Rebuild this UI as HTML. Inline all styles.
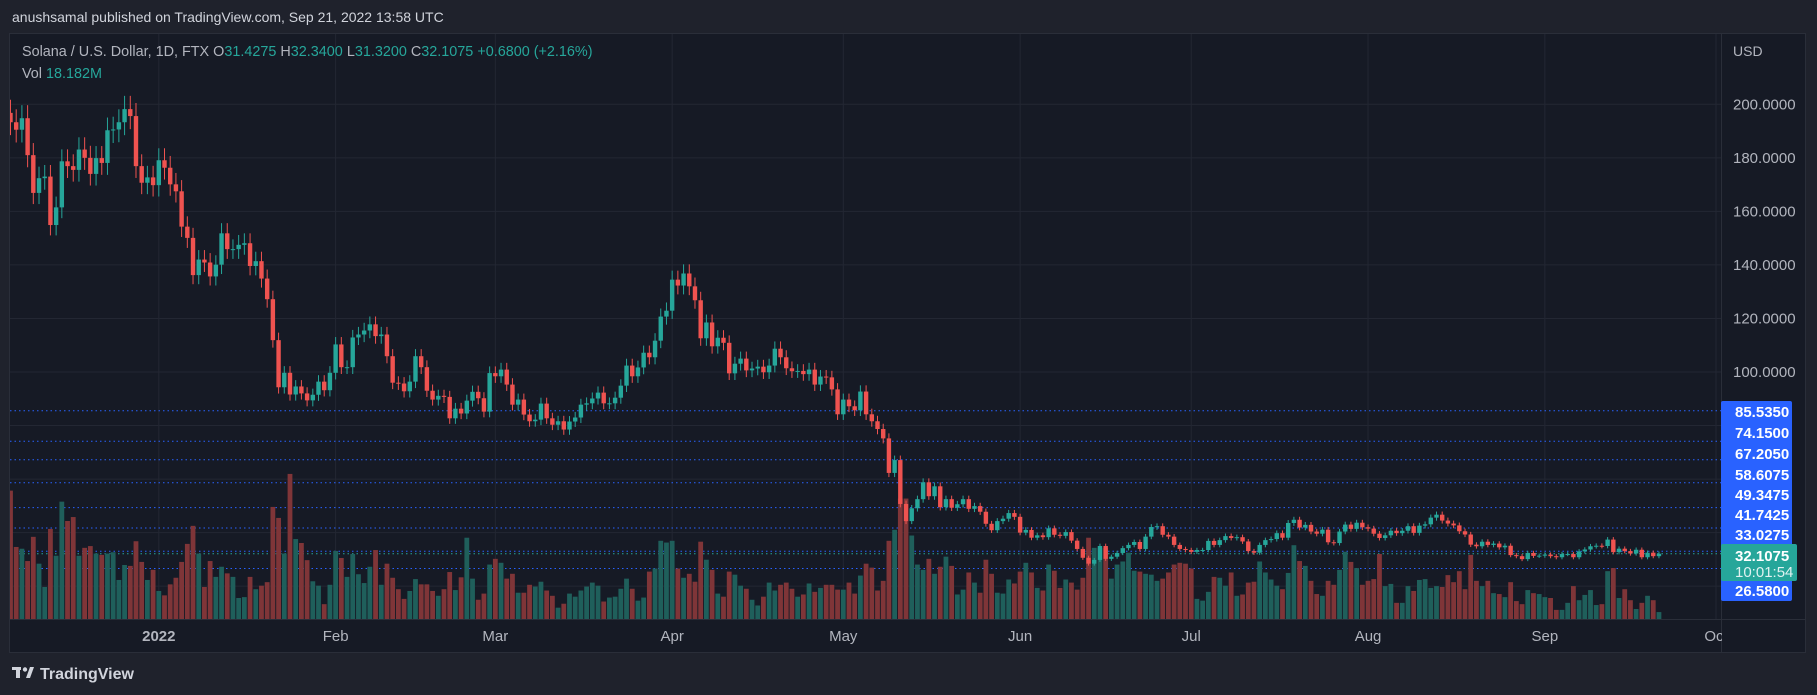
<!DOCTYPE html>
<html><head><meta charset="utf-8"><style>
html,body{margin:0;padding:0;background:#1e222d;width:1817px;height:695px;overflow:hidden}
svg{display:block;font-family:"Liberation Sans",sans-serif}
</style></head><body>
<svg id="chart" width="1817" height="695" viewBox="0 0 1817 695" xmlns="http://www.w3.org/2000/svg">
<rect x="0" y="0" width="1817" height="695" fill="#1f222c"/>
<text x="12" y="22" fill="#d1d4dc" font-size="14">anushsamal published on TradingView.com, Sep 21, 2022 13:58 UTC</text>
<rect x="9.5" y="33.5" width="1796" height="619" fill="#161a25" stroke="#2a2e39"/>
<g id="grid"></g>
<g id="levels"></g>
<g id="vols" clip-path="url(#plotclip)"></g>
<g id="candles" clip-path="url(#plotclip)"></g>
<defs><clipPath id="plotclip"><rect x="10" y="34" width="1711" height="585"/></clipPath></defs>
<line x1="1721.5" y1="34" x2="1721.5" y2="652" stroke="#2a2e39"/>
<line x1="10" y1="619.5" x2="1805" y2="619.5" stroke="#2a2e39"/>
<text x="1733" y="56" fill="#b2b5be" font-size="14">USD</text>
<g id="yaxis"></g>
<g id="xaxis"></g>
<g id="tags"></g>
<text x="22" y="56" font-size="14.4" fill="#b2b5be">Solana / U.S. Dollar, 1D, FTX  <tspan fill="#b2b5be">O</tspan><tspan fill="#26a69a">31.4275</tspan>  <tspan fill="#b2b5be">H</tspan><tspan fill="#26a69a">32.3400</tspan>  <tspan fill="#b2b5be">L</tspan><tspan fill="#26a69a">31.3200</tspan>  <tspan fill="#b2b5be">C</tspan><tspan fill="#26a69a">32.1075</tspan>  <tspan fill="#26a69a">+0.6800 (+2.16%)</tspan></text>
<text x="22" y="78" font-size="14.4" fill="#b2b5be">Vol  <tspan fill="#26a69a">18.182M</tspan></text>
<g>
<rect x="12" y="667" width="9" height="3" fill="#d1d4dc"/><rect x="16" y="667" width="4" height="11" fill="#d1d4dc"/>
<circle cx="25" cy="669.5" r="2.2" fill="#d1d4dc"/><polygon points="26,678 30,667 34,667 30,678" fill="#d1d4dc"/>
<text x="40" y="679" font-size="16" font-weight="bold" fill="#d1d4dc">TradingView</text>
</g>
</svg>
<script>
const startDay = -26;
const closes = [193.3,190.5,194.8,181,166.9,172.4,173,154.9,161.5,178.7,176.9,175.5,183.1,180,174,179.9,178.1,190.3,190.6,193.3,198.2,195.6,176.9,170.7,172.7,169.8,
179.1,176.3,170.1,167.5,154.3,150.1,136.2,142,140.9,135.7,140.1,151.8,145.9,145.9,147.5,148.1,139.6,141.4,134.9,127.2,111.9,94.3,99.7,91.6,94.6,92,89.4,91.5,96.4,93.2,99.7,
110.3,101.8,101.8,112.9,114,115.5,117.8,113.4,114,105.9,96,95.7,92.8,96.4,105.9,101.8,93,89.7,91.1,90.7,82.7,86.3,
84.5,89.3,92.6,90.2,85.2,99.6,98.4,100.9,95.3,87.8,89.7,84.1,81.6,82.2,88.2,82.7,80.3,81.6,78.5,81.5,83,87.8,88.3,90.1,92.3,88.3,88.3,90.4,94.9,102.4,
98.4,101.7,107.2,105.5,111.7,120.7,122.9,134.5,132.3,136.8,132,126.8,112.6,118.5,109.6,112.8,110.9,99.5,103.1,105,100.6,101.3,102,99.9,102.4,108.7,105.5,101.4,100.3,100.4,
99.2,100.9,95.3,98.3,98,93.5,84.2,89.7,87.2,85.7,92.7,84.2,81.6,78.7,75.2,62.3,
67.1,50.7,44.3,49.1,52.5,58.8,53.6,57.3,49.5,52.5,49.3,50.6,52.5,48.9,49.9,47.8,43.3,40.9,44.3,45.2,47.3,45.9,40,41,38.1,39,38.3,41.6,39.2,38.8,
40.2,37,33.9,30.6,28.4,29.8,35,30.2,31,32.4,34.2,35.4,36.5,33.9,38.5,42.1,42.4,39.2,38.5,35.4,33.9,33.5,32.8,33.5,33.5,36.9,35.4,37.2,38.7,38,38.3,36.7,33.1,32.5,35.4,37.2,37.6,39.8,
38.1,43.6,44.8,41.9,42.9,40.4,39.6,41.1,36.4,36.1,40.4,43,41.4,43.7,42,41.5,39.6,38,39,40.7,39.8,40.7,42.4,39.9,42.6,43.1,45.6,46.7,44.5,43.4,
42.7,40.5,39.3,35.5,34.9,36.6,35.4,35.9,34.5,35.1,31.6,31.2,30.1,32.4,31.3,31.4,31.8,31.2,30.8,32,32,30.8,33,33.7,34.9,35.1,35,37.4,32.7,34,33.1,32.2,33.6,30.8,32.5,31.2,32.1075];
const firstOpen = 196.8;
const volumes = [294,166,162,134,189,128,75,207,146,269,225,234,146,164,168,151,148,151,154,91,125,123,179,132,91,114,
66,56,81,96,132,173,214,151,75,134,98,121,106,98,50,52,98,70,78,86,257,232,151,332,184,175,136,88,78,36,80,
157,141,98,150,104,84,121,159,80,128,96,70,48,66,93,81,81,66,55,70,109,68,
97,187,94,46,60,126,139,130,94,105,62,62,80,76,87,67,55,28,37,60,53,67,76,85,78,42,51,53,71,94,
71,44,51,110,117,180,176,180,117,96,105,87,178,137,114,60,53,110,103,78,71,46,33,53,85,67,80,85,71,53,
58,83,64,73,80,80,69,69,85,60,101,128,119,67,89,180,
205,276,276,192,126,114,139,105,121,144,123,58,69,108,85,62,137,105,62,60,92,83,110,130,108,73,67,126,112,73,
92,85,69,96,187,164,164,164,94,126,133,153,112,110,105,103,89,94,108,126,130,128,117,48,44,64,98,96,78,108,55,58,85,87,133,108,92,78,
70,107,170,134,123,89,59,55,89,80,114,155,132,118,80,89,93,150,77,82,39,39,77,66,91,93,73,77,75,102,
86,111,70,148,89,77,89,61,59,52,86,43,36,68,61,59,52,50,23,23,39,77,45,57,68,34,36,111,118,50,70,45,25,39,55,45,18];
const priceTicks = [200,180,160,140,120,100];
const gridPrices = [200,180,160,140,120,100,80,60,40,20];
const monthLabels = ["2022","Feb","Mar","Apr","May","Jun","Jul","Aug","Sep","Oct"];
const monthDays = [0,31,59,90,120,151,181,212,243,273];
const levelPrices = [85.535,74.15,67.205,58.6075,49.3475,41.7425,33.0275,26.58];
const lastPrice = 32.1075;

const NS="http://www.w3.org/2000/svg";
const xDay=d=>158.8+d*5.704;
const yP=p=>104.3+(200-p)*2.677;
const yV=v=>620-v*0.44;
function mk(tag,attrs,parent){const e=document.createElementNS(NS,tag);for(const k in attrs)e.setAttribute(k,attrs[k]);parent.appendChild(e);return e;}
const grid=document.getElementById('grid');
gridPrices.forEach(p=>{const l=mk('line',{x1:10,x2:1721,y1:yP(p),y2:yP(p),stroke:'#232733','stroke-width':1},grid);

});
monthDays.forEach(d=>{const l=mk('line',{x1:xDay(d),x2:xDay(d),y1:34,y2:619,stroke:'#232733','stroke-width':1},grid);

});
const lv=document.getElementById('levels');
levelPrices.forEach(p=>{const l=mk('line',{x1:10,x2:1721,y1:yP(p),y2:yP(p),stroke:'#2962ff','stroke-width':1,'stroke-dasharray':'1.5 3'},lv);

});
const cl=mk('line',{x1:10,x2:1721,y1:yP(lastPrice),y2:yP(lastPrice),stroke:'#26a69a','stroke-width':1,'stroke-dasharray':'1.5 3'},lv);


const vg=document.getElementById('vols'),cg=document.getElementById('candles');
let prev=firstOpen;
closes.forEach((c,i)=>{
 const o=prev;prev=c;const d=startDay+i;const x=xDay(d);const up=c>=o;
 const col=up?'#26a69a':'#ef5350';
 const v=mk('rect',{x:x-2.4,y:yV(volumes[i]),width:4.8,height:volumes[i]*0.44,fill:up?'#1f5f5b':'#7f3538'},vg);
 
 
 const hi=Math.max(o,c)*1.025,lo=Math.min(o,c)*0.975;
 const w=mk('line',{x1:x,x2:x,y1:yP(hi),y2:yP(lo),stroke:col,'stroke-width':1},cg);
 
 
 const top=yP(Math.max(o,c)),bot=yP(Math.min(o,c));
 const b=mk('rect',{x:x-2.2,y:top,width:4.4,height:Math.max(1,bot-top),fill:col},cg);
 
 
});
const ya=document.getElementById('yaxis');
priceTicks.forEach(p=>{const t=mk('text',{x:1733,y:yP(p)+5,fill:'#b2b5be','font-size':15},ya);t.textContent=p.toFixed(4);

});
const xa=document.getElementById('xaxis');
monthLabels.forEach((m,i)=>{const t=mk('text',{x:xDay(monthDays[i]),y:641,fill:'#b2b5be','font-size':15,'text-anchor':'middle','font-weight':m==='2022'?'bold':'normal'},xa);t.textContent=m;

});
const cover=mk('rect',{x:1722,y:620,width:83,height:32,fill:'#161a25'},xa);


const tags=document.getElementById('tags');
const tagY=[401,422,443,464,484,504,524];
const blk=mk('rect',{x:1721,y:401,width:71,height:200,fill:'#2962ff',rx:2},tags);


levelPrices.forEach((p,i)=>{const ty=i<7?tagY[i]+16:596;const t=mk('text',{x:1735,y:ty,fill:'#ffffff','font-size':15,'font-weight':'bold'},tags);t.textContent=p.toFixed(4);

});
const g=mk('rect',{x:1721,y:544,width:76,height:37,fill:'#26a69a',rx:2},tags);


const t1=mk('text',{x:1735,y:561,fill:'#ffffff','font-size':15,'font-weight':'bold'},tags);t1.textContent=lastPrice.toFixed(4);


const t2=mk('text',{x:1735,y:577,fill:'#e0f2f1','font-size':15},tags);t2.textContent='10:01:54';


</script>
</body></html>
